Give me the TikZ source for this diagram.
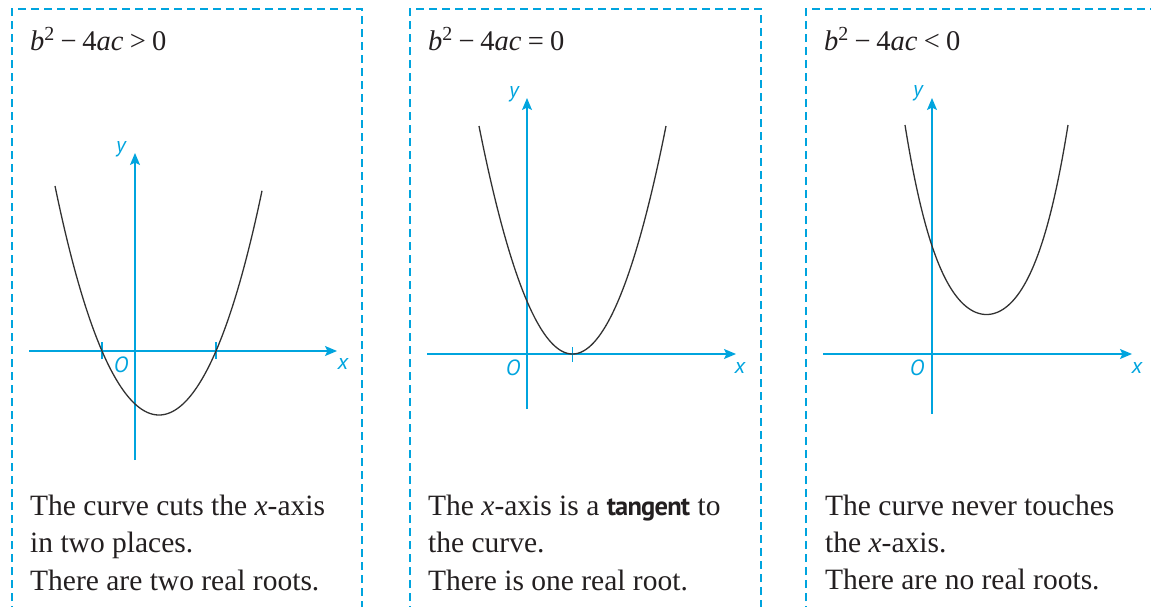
\documentclass[tikz,border=0pt]{standalone}
\usepackage{fontspec}
\setmainfont{Liberation Serif}
\newfontfamily\lblfont{PT Sans}
\usetikzlibrary{arrows.meta}
\definecolor{ax}{RGB}{0,164,222}
\definecolor{ink}{RGB}{35,31,32}
\definecolor{crv}{RGB}{50,50,50}
\tikzset{
  panel/.style={draw=ax, line width=2.4pt, dash pattern=on 8pt off 5pt},
  axis/.style={draw=ax, line width=1.2pt},
  axarrow/.style={axis, -{Stealth[length=12pt,width=10pt,inset=2.5pt]}},
  tick/.style={draw=ax, line width=1.1pt},
  curve/.style={draw=crv, line width=1.3pt},
  lbl/.style={text=ax, font=\lblfont\itshape\fontsize{22}{22}\selectfont, inner sep=0pt},
  title/.style={text=ink, anchor=base west, inner sep=0pt, font=\fontsize{28.5}{28.5}\selectfont},
  body/.style={text=ink, anchor=base west, inner sep=0pt, font=\fontsize{29.5}{37.5}\selectfont}
}
\newcommand{\disc}[1]{\textit{b}\textsuperscript{2}\hspace{0.2em}−\hspace{0.2em}4\textit{ac}\hspace{0.22em}#1\hspace{0.22em}0}
\begin{document}
\begin{tikzpicture}[x=1pt,y=-1pt]
\clip (0,0) rectangle (1151,606);
% panels
\draw[panel] (12,640) -- (12,9) -- (362,9) -- (362,640);
\draw[panel] (410,640) -- (410,9) -- (761,9) -- (761,640);
\draw[panel] (806,640) -- (806,9) -- (1170,9);
% titles
\node[title] (t1) at (30,50) {\disc{>}};
\node[title] (t2) at (428,50) {\disc{=}};
\node[title] (t3) at (824,50) {\disc{<}};
% ---------- panel 1
\coordinate (x1a) at (29,351); \coordinate (x1b) at (337,351);
\coordinate (y1a) at (135,460); \coordinate (y1b) at (135,153);
\draw[axarrow] (x1a) -- (x1b);
\draw[axarrow] (y1a) -- (y1b);
\coordinate (r1a) at (102,342); \coordinate (r1b) at (102,359);
\coordinate (r2a) at (216,342); \coordinate (r2b) at (216,359);
\draw[tick] (r1a) -- (r1b);
\draw[tick] (r2a) -- (r2b);
\draw[curve] plot[domain=-104:103, samples=120, smooth] ({159+\x}, {415-(1.9065*(\x/10)^2+0.001949*(\x/10)^4)});
\node[lbl] (ly1) at (121,149) {y};
\node[lbl] (lo1) at (121,365) {O};
\node[lbl] (lx1) at (343,364) {x};
% ---------- panel 2
\coordinate (x2a) at (427,354); \coordinate (x2b) at (736,354);
\coordinate (y2a) at (527,409); \coordinate (y2b) at (527,98);
\draw[axarrow] (x2a) -- (x2b);
\draw[axarrow] (y2a) -- (y2b);
\coordinate (r3a) at (572.5,347); \coordinate (r3b) at (572.5,362);
\draw[tick] (r3a) -- (r3b);
\draw[curve] plot[domain=-93.5:93.5, samples=120, smooth] ({572.5+\x}, {354-(2.5305*(\x/10)^2+0.000887*(\x/10)^4)});
\node[lbl] (ly2) at (514,94) {y};
\node[lbl] (lo2) at (513,368) {O};
\node[lbl] (lx2) at (740,368) {x};
% ---------- panel 3
\coordinate (x3a) at (823,354); \coordinate (x3b) at (1132,354);
\coordinate (y3a) at (932,414); \coordinate (y3b) at (932,98);
\draw[axarrow] (x3a) -- (x3b);
\draw[axarrow] (y3a) -- (y3b);
\draw[curve] plot[domain=-81.5:81.5, samples=120, smooth] ({986.5+\x}, {314.5-(1.8698*(\x/10)^2+0.0148*(\x/10)^4)});
\node[lbl] (ly3) at (918,93) {y};
\node[lbl] (lo3) at (917,368) {O};
\node[lbl] (lx3) at (1137,368) {x};
% ---------- body texts
\node[body] (b1a) at (30,515) {The curve cuts the \textit{x}-axis};
\node[body] (b1b) at (30,552.5) {in two places.};
\node[body] (b1c) at (30,590) {There are two real roots.};
\node[body] (b2a) at (428,515) {The \textit{x}-axis is a {\lblfont\bfseries\fontsize{26.5}{26.5}\selectfont\addfontfeatures{LetterSpace=-3}tangent} to};
\node[body] (b2b) at (428,552.5) {the curve.};
\node[body] (b2c) at (428,590) {There is one real root.};
\node[body] (b3a) at (825,515) {The curve never touches};
\node[body] (b3b) at (825,552.5) {the \textit{x}-axis.};
\node[body] (b3c) at (825,589) {There are no real roots.};
\end{tikzpicture}
\end{document}
